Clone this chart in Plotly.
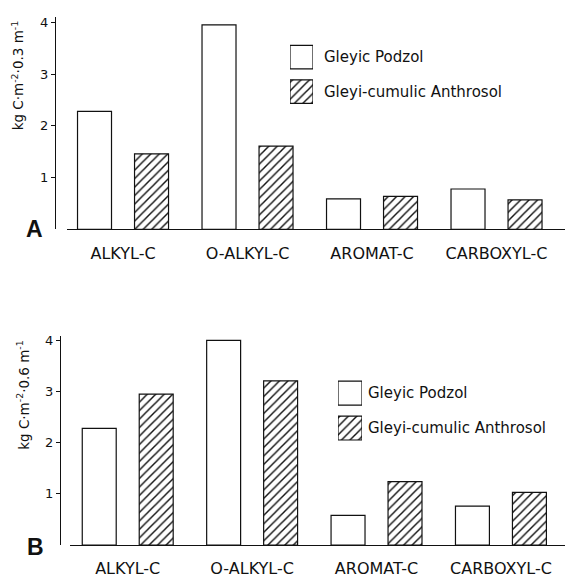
import plotly.graph_objects as go

W, H = 565, 578

categories = ["ALKYL-C", "O-ALKYL-C", "AROMAT-C", "CARBOXYL-C"]
series_names = ["Gleyic Podzol", "Gleyi-cumulic Anthrosol"]
podzol_03 = [2.28, 3.95, 0.59, 0.78]
anthrosol_03 = [1.46, 1.61, 0.64, 0.57]
podzol_06 = [2.28, 4.00, 0.58, 0.76]
anthrosol_06 = [2.95, 3.21, 1.24, 1.03]
y_ticks = [1, 2, 3, 4]


def fx(px):
    return px / W


def fy(py):
    return 1 - py / H


INK = "#111111"
FONT = "DejaVu Sans"
LINE_W = 1.2
HATCH = dict(shape="/", size=6, solidity=0.24, fgcolor=INK, bgcolor="white", fillmode="replace")
PLAIN = dict(shape="")

fig = go.Figure()


def add_bars(vals_p, vals_a, xa, ya):
    fig.add_trace(go.Bar(x=categories, y=vals_p, name=series_names[0], xaxis=xa, yaxis=ya,
                         marker=dict(color="white", line=dict(color=INK, width=LINE_W), pattern=PLAIN),
                         showlegend=False))
    fig.add_trace(go.Bar(x=categories, y=vals_a, name=series_names[1], xaxis=xa, yaxis=ya,
                         marker=dict(color="white", line=dict(color=INK, width=LINE_W), pattern=HATCH),
                         showlegend=False))


add_bars(podzol_03, anthrosol_03, "x", "y")
add_bars(podzol_06, anthrosol_06, "x2", "y2")


# legend swatches (one horizontal bar trace per legend block)
def add_swatches(xa, ya):
    fig.add_trace(go.Bar(y=[1, 0], x=[1, 1], orientation="h", width=0.686, xaxis=xa, yaxis=ya,
                         cliponaxis=False, showlegend=False, hoverinfo="skip",
                         marker=dict(color="white", line=dict(color=INK, width=LINE_W),
                                     pattern=dict(shape=["", "/"], size=6, solidity=0.24,
                                                  fgcolor=INK, bgcolor="white", fillmode="replace"))))


add_swatches("x3", "y3")
add_swatches("x4", "y4")

axis_font = dict(family=FONT, size=16, color=INK)
tick_font = dict(family=FONT, size=13, color=INK)

common_x = dict(type="category", showline=True, linecolor=INK, linewidth=LINE_W, ticks="",
                showgrid=False, zeroline=False, tickfont=axis_font, ticklabelstandoff=9)
common_y = dict(showline=True, linecolor=INK, linewidth=LINE_W, ticks="outside", ticklen=4,
                tickwidth=1, tickcolor=INK, tickvals=y_ticks, showgrid=False, zeroline=False,
                tickfont=tick_font, anchor="free")

fig.update_layout(
    width=W, height=H,
    margin=dict(l=0, r=0, t=0, b=0),
    paper_bgcolor="white", plot_bgcolor="rgba(0,0,0,0)",
    barmode="group", bargap=0.084, bargroupgap=0.404,
    showlegend=False,
    xaxis=dict(common_x, domain=[fx(67), 1], anchor="y", range=[-0.45, 3.55]),
    yaxis=dict(common_y, domain=[fy(230), fy(14.3)], range=[0, 4.1], position=fx(55)),
    xaxis2=dict(common_x, domain=[fx(70), 1], anchor="y2", range=[-0.464, 3.515]),
    yaxis2=dict(common_y, domain=[fy(550.7), fy(338)], range=[0, 4.09], position=fx(60)),
    xaxis3=dict(domain=[fx(290), fx(313)], anchor="y3", range=[0, 1], visible=False),
    yaxis3=dict(domain=[fy(107.5), fy(37.5)], anchor="x3", range=[-0.5, 1.5], visible=False),
    xaxis4=dict(domain=[fx(338), fx(362)], anchor="y4", range=[0, 1], visible=False),
    yaxis4=dict(domain=[fy(449.5), fy(378.5)], anchor="x4", range=[-0.5, 1.5], visible=False),
)

ann = []
leg_font = dict(family=FONT, size=15, color=INK)
ann.append(dict(text=series_names[0], x=fx(322), y=fy(55), xanchor="left", yanchor="middle", font=leg_font))
ann.append(dict(text=series_names[1], x=fx(322), y=fy(90), xanchor="left", yanchor="middle", font=leg_font))
ann.append(dict(text=series_names[0], x=fx(366), y=fy(396.5), xanchor="left", yanchor="middle", font=leg_font))
ann.append(dict(text=series_names[1], x=fx(366), y=fy(431.5), xanchor="left", yanchor="middle", font=leg_font))
ann.append(dict(text="kg C·m<sup>-2</sup>·0.3 m<sup>-1</sup>", x=fx(18), y=fy(73.5), textangle=-90,
                xanchor="center", yanchor="middle", font=dict(family=FONT, size=13.5, color=INK)))
ann.append(dict(text="kg C·m<sup>-2</sup>·0.6 m<sup>-1</sup>", x=fx(23), y=fy(398), textangle=-90,
                xanchor="center", yanchor="middle", font=dict(family=FONT, size=13.5, color=INK)))
ann.append(dict(text="<b>A</b>", x=fx(34), y=fy(230), xanchor="center", yanchor="middle",
                font=dict(family="Liberation Sans", size=23, color=INK)))
ann.append(dict(text="<b>B</b>", x=fx(35), y=fy(553), xanchor="center", yanchor="middle",
                font=dict(family="Liberation Sans", size=23, color=INK)))
for a in ann:
    a.update(xref="paper", yref="paper", showarrow=False)
fig.update_layout(annotations=ann)

fig.write_html("out.html")
